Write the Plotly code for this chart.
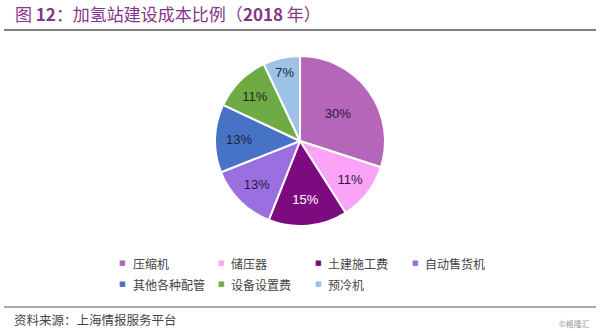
import plotly.graph_objects as go

categories = ["压缩机", "储压器", "土建施工费", "自动售货机", "其他各种配管", "设备设置费", "预冷机"]
values = [30, 11, 15, 13, 13, 11, 7]
colors = ["#B566B9", "#FBA4F7", "#7E0A80", "#9A6FE0", "#4673C6", "#6FAB45", "#9CC2E6"]
text_colors = ["#2A1838", "#2A1838", "#FFFFFF", "#2A1838", "#1A2438", "#1A2A18", "#1A2438"]

title_text = "图 <b>12</b>：加氢站建设成本比例（<b>2018</b> 年）"
source_text = "资料来源：上海情报服务平台"
watermark = "©格隆汇"

W, H = 600, 331
cx, cy, r = 300, 141, 85

fig = go.Figure()
fig.add_trace(go.Pie(
    labels=categories, values=values, sort=False, direction="clockwise", rotation=0,
    marker=dict(colors=colors, line=dict(color="white", width=2)),
    texttemplate="%{percent:.0%}", textposition="inside", insidetextorientation="horizontal",
    textfont=dict(family="Arial, Liberation Sans", size=13, color=text_colors),
    showlegend=False, hoverinfo="label+percent",
    domain=dict(x=[(cx - r) / W, (cx + r) / W], y=[(H - cy - r) / H, (H - cy + r) / H]),
))

annotations = [
    dict(text=title_text, x=13 / W, y=1 - 14 / H, xref="paper", yref="paper", xanchor="left", yanchor="middle",
         showarrow=False, font=dict(family="Noto Sans CJK SC", size=17, color="#85368A")),
    dict(text=source_text, x=12 / W, y=1 - 319 / H, xref="paper", yref="paper", xanchor="left", yanchor="middle",
         showarrow=False, font=dict(family="Noto Sans CJK SC", size=12.5, color="#444444")),
    dict(text=watermark, x=592 / W, y=1 - 323 / H, xref="paper", yref="paper", xanchor="right", yanchor="middle",
         showarrow=False, font=dict(family="Noto Sans CJK SC", size=8, color="#999999")),
]

# legend laid out as two rows of four columns
col_x = [123, 221, 318, 415]
row_y = [263, 284]
for i, (cat, col) in enumerate(zip(categories, colors)):
    row, c = divmod(i, 4)
    x0, y0 = col_x[c], row_y[row]
    annotations.append(dict(text="■", x=x0 / W, y=1 - y0 / H, xref="paper", yref="paper",
                            xanchor="center", yanchor="middle", showarrow=False,
                            font=dict(family="DejaVu Sans", size=7, color=col)))
    annotations.append(dict(text=cat, x=(x0 + 8) / W, y=1 - y0 / H, xref="paper", yref="paper",
                            xanchor="left", yanchor="middle", showarrow=False,
                            font=dict(family="Noto Sans CJK SC", size=12, color="#444444")))

shapes = [
    dict(type="line", xref="paper", yref="paper", x0=4 / W, x1=596 / W, y0=1 - 30 / H, y1=1 - 30 / H,
         line=dict(color="#555555", width=1.5)),
    dict(type="line", xref="paper", yref="paper", x0=4 / W, x1=596 / W, y0=1 - 307 / H, y1=1 - 307 / H,
         line=dict(color="#555555", width=1.2)),
]

fig.update_layout(
    width=W, height=H, margin=dict(l=0, r=0, t=0, b=0),
    paper_bgcolor="white", plot_bgcolor="white",
    annotations=annotations, shapes=shapes, showlegend=False,
)
fig.write_html("out.html")
